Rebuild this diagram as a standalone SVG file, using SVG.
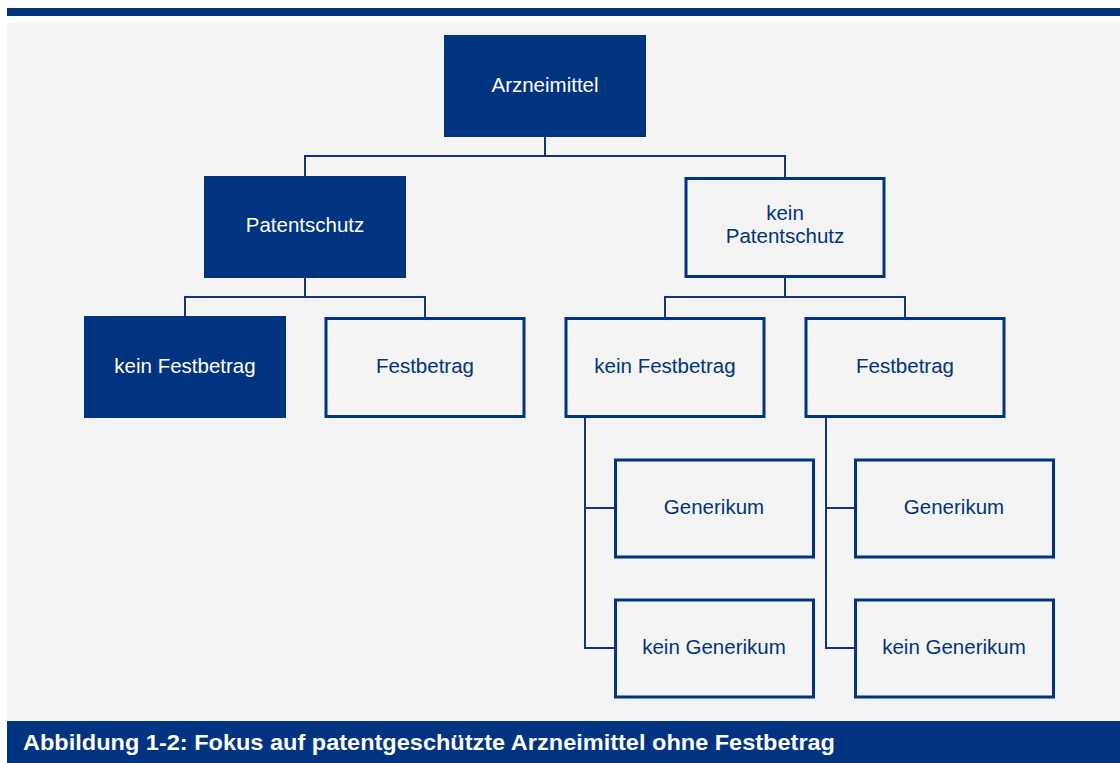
<svg xmlns="http://www.w3.org/2000/svg" width="1120" height="763" viewBox="0 0 1120 763">
  <style>
    .filled rect { fill: #003380; stroke: none; }
    .outlined rect { fill: #f4f4f4; stroke: #003380; stroke-width: 3; }
    .lbl { font-family: "Liberation Sans", Arial, sans-serif; font-size: 20.5px; text-anchor: middle; }
    .filled .lbl { fill: #ffffff; }
    .outlined .lbl { fill: #003380; }
    #connectors path { fill: none; stroke: #0f3580; stroke-width: 2; }
  </style>

  <!-- frame -->
  <rect x="0" y="0" width="1120" height="763" fill="#ffffff"/>
  <rect x="7" y="8" width="1113" height="8" fill="#003380"/>
  <rect x="7" y="23" width="1113" height="698" fill="#f4f4f4"/>
  <rect x="7" y="721" width="1113" height="42" fill="#003380"/>
  <text x="23" y="750" font-family="Liberation Sans, Arial, sans-serif" font-size="22" font-weight="bold" fill="#ffffff" textLength="812" lengthAdjust="spacingAndGlyphs">Abbildung 1-2: Fokus auf patentgeschützte Arzneimittel ohne Festbetrag</text>

  <!-- connectors -->
  <g id="connectors">
    <path d="M545 137 V156 M305 177 V156 H785 V177"/>
    <path d="M305 278 V297 M185 317 V297 H425 V317"/>
    <path d="M785 277 V297 M665 317 V297 H905 V317"/>
    <path d="M585 417 V648 H614 M585 508 H614"/>
    <path d="M826 417 V648 H854 M826 508 H854"/>
  </g>

  <!-- nodes -->
  <g id="arzneimittel" class="filled">
    <rect x="444" y="35" width="202" height="102"/>
    <text class="lbl" x="545" y="92">Arzneimittel</text>
  </g>
  <g id="patentschutz" class="filled">
    <rect x="204" y="176" width="202" height="102"/>
    <text class="lbl" x="305" y="232">Patentschutz</text>
  </g>
  <g id="kein-patentschutz" class="outlined">
    <rect x="686" y="178.5" width="198" height="98"/>
    <text class="lbl" x="785" y="220">kein</text>
    <text class="lbl" x="785" y="243">Patentschutz</text>
  </g>
  <g id="ps-kein-festbetrag" class="filled">
    <rect x="84" y="316" width="202" height="102"/>
    <text class="lbl" x="185" y="373">kein Festbetrag</text>
  </g>
  <g id="ps-festbetrag" class="outlined">
    <rect x="326" y="318.5" width="198" height="98"/>
    <text class="lbl" x="425" y="373">Festbetrag</text>
  </g>
  <g id="kps-kein-festbetrag" class="outlined">
    <rect x="566" y="318.5" width="198" height="98"/>
    <text class="lbl" x="665" y="373">kein Festbetrag</text>
  </g>
  <g id="kps-festbetrag" class="outlined">
    <rect x="806" y="318.5" width="198" height="98"/>
    <text class="lbl" x="905" y="373">Festbetrag</text>
  </g>
  <g id="kfb-generikum" class="outlined">
    <rect x="615.5" y="460" width="198" height="97"/>
    <text class="lbl" x="714" y="514">Generikum</text>
  </g>
  <g id="kfb-kein-generikum" class="outlined">
    <rect x="615.5" y="600" width="198" height="97"/>
    <text class="lbl" x="714" y="654">kein Generikum</text>
  </g>
  <g id="fb-generikum" class="outlined">
    <rect x="855.5" y="460" width="198" height="97"/>
    <text class="lbl" x="954" y="514">Generikum</text>
  </g>
  <g id="fb-kein-generikum" class="outlined">
    <rect x="855.5" y="600" width="198" height="97"/>
    <text class="lbl" x="954" y="654">kein Generikum</text>
  </g>
</svg>
